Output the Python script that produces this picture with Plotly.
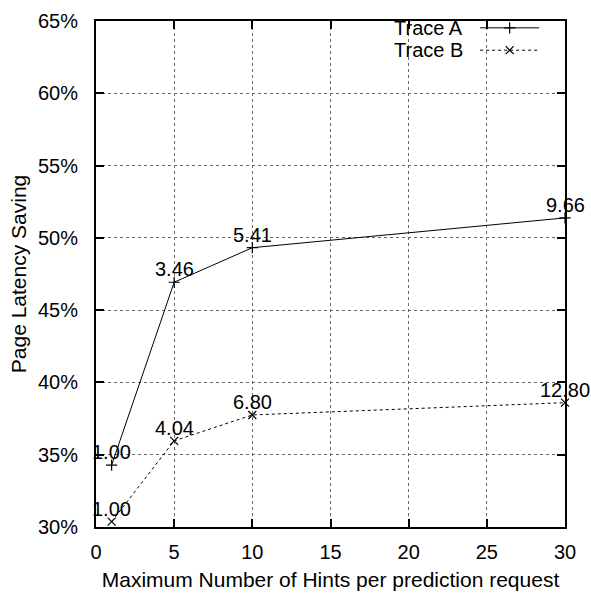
import plotly.graph_objects as go

# Hints per prediction request (x) and page latency saving in percent (y)
hints = [1, 5, 10, 30]
trace_a_saving = [34.28, 46.93, 49.32, 51.38]
trace_b_saving = [30.37, 35.96, 37.75, 38.60]

# Point labels printed above each marker
trace_a_labels = ["1.00", "3.46", "5.41", "9.66"]
trace_b_labels = ["1.00", "4.04", "6.80", "12.80"]

series_names = ["Trace A", "Trace B"]

x_ticks = [0, 5, 10, 15, 20, 25, 30]
y_ticks = [30, 35, 40, 45, 50, 55, 60, 65]
y_tick_text = ["30%", "35%", "40%", "45%", "50%", "55%", "60%", "65%"]

FONT = "Liberation Sans, Arial, Helvetica, sans-serif"
FS = 20
TITLE_FS = 21

fig = go.Figure()

series = [
    (series_names[0], trace_a_saving, trace_a_labels, "solid", "cross-thin"),
    (series_names[1], trace_b_saving, trace_b_labels, "dot", "x-thin"),
]

for name, vals, labels, dash, sym in series:
    fig.add_trace(go.Scatter(
        x=hints, y=vals, name=name, mode="lines+markers",
        line=dict(color="black", width=1, dash=dash),
        marker=dict(symbol=sym, size=8, line=dict(color="black", width=1.2)),
        cliponaxis=False, showlegend=False,
    ))
    # value labels sit just above each point
    for xv, yv, lab in zip(hints, vals, labels):
        fig.add_annotation(
            x=xv, y=yv, xref="x", yref="y", text=lab, showarrow=False,
            xanchor="center", yanchor="middle", yshift=13,
            font=dict(family=FONT, size=FS, color="black"),
        )

# Key drawn on a hidden overlay axis pair spanning the plot area (0..1)
key_rows = [0.9865, 0.9423]
for (name, _, _, dash, sym), ky in zip(series, key_rows):
    fig.add_trace(go.Scatter(
        x=[0.819, 0.945], y=[ky, ky], xaxis="x2", yaxis="y2",
        mode="lines", line=dict(color="black", width=1, dash=dash),
        showlegend=False, hoverinfo="skip",
    ))
    fig.add_trace(go.Scatter(
        x=[0.882], y=[ky], xaxis="x2", yaxis="y2", mode="markers",
        marker=dict(symbol=sym, size=8, line=dict(color="black", width=1.2)),
        showlegend=False, hoverinfo="skip",
    ))
    fig.add_annotation(
        x=0.787, y=ky, xref="paper", yref="paper",
        text=name, showarrow=False, xanchor="right", yanchor="middle",
        font=dict(family=FONT, size=FS, color="black"),
    )

# White panel behind the key hides the grid there
fig.add_shape(type="rect", xref="paper", yref="paper",
              x0=0.615, x1=0.995, y0=0.905, y1=0.997,
              fillcolor="white", line=dict(width=0), layer="between")

axis_common = dict(
    showline=True, linecolor="black", linewidth=2, mirror="ticks",
    ticks="inside", ticklen=8, tickwidth=1.5, tickcolor="black",
    showgrid=True, gridcolor="#666666", gridwidth=1, griddash="dot",
    zeroline=False,
    tickfont=dict(family=FONT, size=FS, color="black"),
)

fig.update_layout(
    width=591, height=598,
    margin=dict(l=96, r=26, t=10, b=68),
    paper_bgcolor="white", plot_bgcolor="white",
    font=dict(family=FONT, size=FS, color="black"),
    xaxis=dict(
        range=[0, 30], tickvals=x_ticks, ticklabelstandoff=6,
        title=dict(text="Maximum Number of Hints per prediction request",
                   font=dict(family=FONT, size=TITLE_FS, color="black"), standoff=10),
        **axis_common,
    ),
    yaxis=dict(
        range=[30, 65], tickvals=y_ticks, ticktext=y_tick_text, ticklabelstandoff=12,
        title=dict(text="Page Latency Saving",
                   font=dict(family=FONT, size=TITLE_FS, color="black"), standoff=6),
        **axis_common,
    ),
    xaxis2=dict(overlaying="x", range=[0, 1], visible=False),
    yaxis2=dict(overlaying="y", range=[0, 1], visible=False),
)

fig.write_html("out.html")
